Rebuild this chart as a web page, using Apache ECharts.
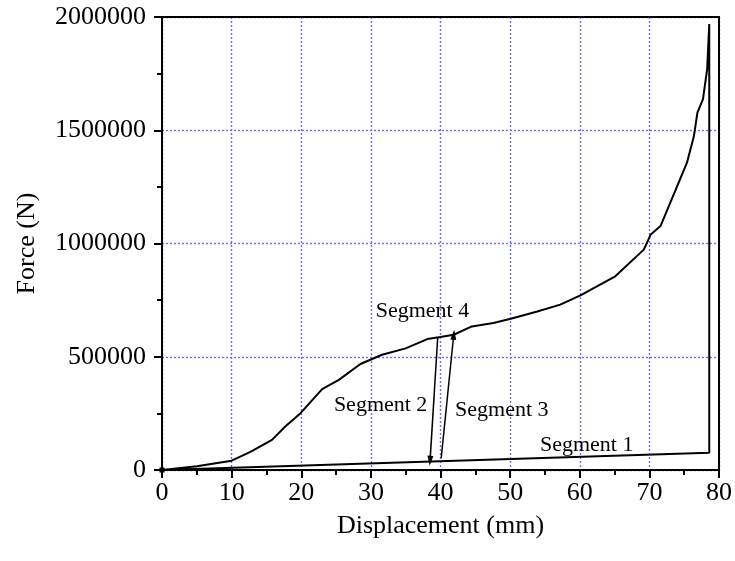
<!DOCTYPE html>
<html>
<head>
<meta charset="utf-8">
<script src="https://cdn.jsdelivr.net/npm/echarts@6/dist/echarts.min.js"></script>
<style>
html, body { margin:0; padding:0; background:#fff; }
#chart { width:735px; height:561px; }
</style>
</head>
<body>
<div id="chart"></div>
<script>
// loading path (segment 4) then drop and return along segment 1
var disp = [0, 5, 10, 12.7, 15.8, 17.7, 19.9, 23.0, 25.4, 28.5, 31.6, 35.0, 38.1, 40.0, 41.9, 44.5, 47.6, 50.1, 53.9, 57.2, 60.1, 65.1, 69.2, 70.2, 71.6, 75.4, 76.4, 76.9, 77.7, 78.3, 78.6, 78.6, 0];
var force = [0, 17000, 41000, 80000, 133000, 192000, 251000, 357000, 398000, 468000, 509000, 537000, 578000, 587000, 597000, 634000, 649000, 668000, 700000, 730000, 771000, 855000, 973000, 1040000, 1077000, 1357000, 1475000, 1578000, 1637000, 1770000, 1969000, 76000, 0];

// arrows: [x1, y1, x2, y2]
var seg2Arrow = [39.6, 583000, 38.5, 41000];
var seg3Arrow = [40.1, 52000, 41.9, 597000];

var segLabels = ['Segment 1', 'Segment 2', 'Segment 3', 'Segment 4'];
var segLabelPos = [[61.0, 111000], [31.4, 288000], [48.8, 265000], [37.4, 699000]];

var font = 'Liberation Serif';

var points = [];
for (var i = 0; i < disp.length; i++) {
    points.push([disp[i], force[i]]);
}

var labelPoints = [];
for (var j = 0; j < segLabels.length; j++) {
    labelPoints.push({ value: segLabelPos[j], name: segLabels[j] });
}

var gridLine = { color: '#6a6aff', type: [2, 2], width: 1.4 };
var blackLine = { color: '#000', width: 2 };

var myChart = echarts.init(document.getElementById('chart'));

var option = {
    backgroundColor: '#fff',
    animation: false,
    grid: { left: 162, right: 16, top: 17, bottom: 91 },
    xAxis: [{
        type: 'value',
        min: 0, max: 80, interval: 10,
        name: 'Displacement (mm)',
        nameLocation: 'middle',
        nameGap: 43,
        nameTextStyle: { fontFamily: font, fontSize: 26, color: '#000' },
        axisLine: { lineStyle: blackLine },
        axisTick: { length: 8, lineStyle: blackLine },
        minorTick: { show: true, splitNumber: 2, length: 5, lineStyle: blackLine },
        axisLabel: { fontFamily: font, fontSize: 26, color: '#000', margin: 10 },
        splitLine: { show: true, lineStyle: gridLine }
    }, {
        // top frame line
        type: 'value', position: 'top', z: 5,
        min: 0, max: 80, interval: 10,
        axisLine: { show: true, onZero: false, lineStyle: blackLine },
        axisTick: { show: false }, axisLabel: { show: false }, splitLine: { show: false }
    }],
    yAxis: [{
        type: 'value',
        min: 0, max: 2000000, interval: 500000,
        name: 'Force (N)',
        nameLocation: 'middle',
        nameGap: 122,
        nameTextStyle: { fontFamily: font, fontSize: 26, color: '#000' },
        axisLine: { lineStyle: blackLine },
        axisTick: { length: 8, lineStyle: blackLine },
        minorTick: { show: true, splitNumber: 2, length: 5, lineStyle: blackLine },
        axisLabel: {
            fontFamily: font, fontSize: 26, color: '#000', margin: 16,
            formatter: function (v) { return String(v); }
        },
        splitLine: { show: true, lineStyle: gridLine }
    }, {
        // right frame line
        type: 'value', position: 'right', z: 5,
        min: 0, max: 2000000, interval: 500000,
        axisLine: { show: true, onZero: false, lineStyle: blackLine },
        axisTick: { show: false }, axisLabel: { show: false }, splitLine: { show: false }
    }],
    series: [
        {
            type: 'line',
            data: points,
            showSymbol: false,
            lineStyle: { color: '#000', width: 2 },
            markLine: {
                silent: true,
                symbol: ['none', 'triangle'],
                symbolSize: [6, 10],
                label: { show: false },
                lineStyle: { color: '#000', width: 1.5, type: 'solid' },
                data: [
                    [{ coord: [seg2Arrow[0], seg2Arrow[1]] }, { coord: [seg2Arrow[2], seg2Arrow[3]] }],
                    [{ coord: [seg3Arrow[0], seg3Arrow[1]] }, { coord: [seg3Arrow[2], seg3Arrow[3]] }]
                ]
            }
        },
        {
            // small start marker at the origin
            type: 'scatter',
            data: [[disp[0], force[0]]],
            symbol: 'rect',
            symbolSize: 5,
            itemStyle: { color: '#000', opacity: 1 },
            silent: true
        },
        {
            type: 'scatter',
            data: labelPoints,
            symbolSize: 1,
            itemStyle: { color: 'rgba(0,0,0,0)', opacity: 1 },
            silent: true,
            label: {
                show: true, position: 'inside', opacity: 1,
                formatter: '{b}',
                fontFamily: font, fontSize: 22, color: '#000'
            }
        }
    ]
};

myChart.setOption(option);
</script>
</body>
</html>
